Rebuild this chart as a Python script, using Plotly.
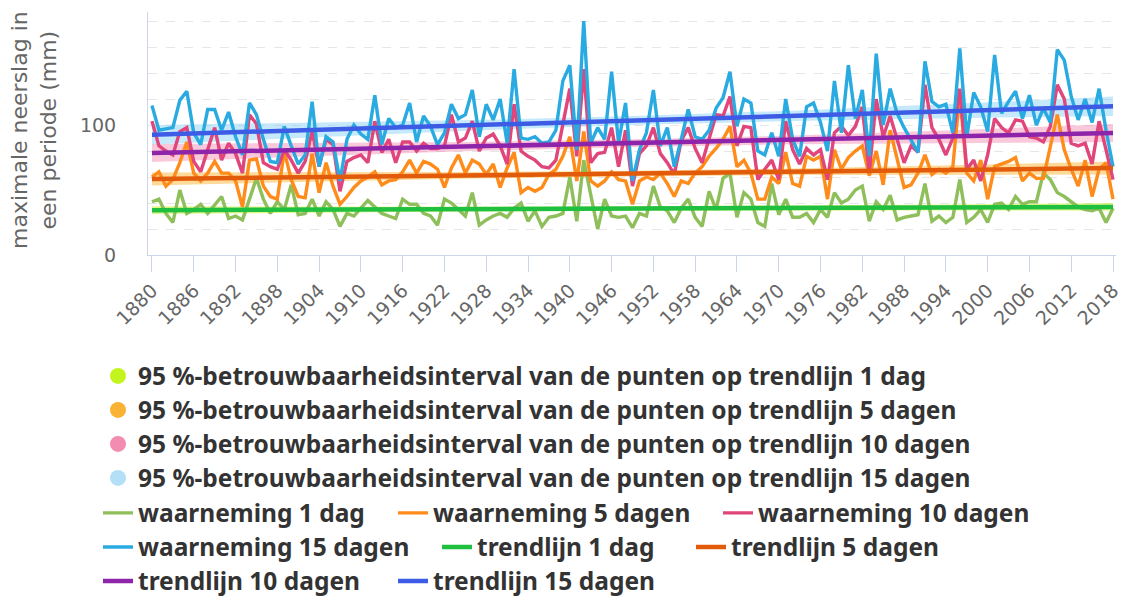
import plotly.graph_objects as go

# jaren 1880 t/m 2018
years = list(range(1880, 2019))

# waarnemingen (mm)
obs_1 = [41, 43, 32, 25, 50, 32, 35, 39, 32, 39, 45, 28, 30, 27, 43, 59, 43, 32, 41, 35, 54, 31, 32,
         43, 30, 41, 35, 22, 32, 30, 36, 42, 37, 32, 30, 28, 43, 39, 39, 32, 30, 23, 43, 40, 35, 30,
         48, 23, 27, 30, 32, 29, 36, 40, 26, 34, 22, 29, 30, 32, 60, 26, 73, 45, 20, 43, 30, 29, 30,
         21, 32, 30, 53, 37, 34, 25, 36, 43, 29, 22, 49, 35, 59, 63, 29, 48, 43, 25, 22, 55, 31, 43,
         29, 29, 32, 25, 35, 29, 48, 40, 43, 50, 53, 26, 41, 35, 46, 27, 29, 30, 31, 55, 26, 30,
         25, 29, 58, 25, 29, 35, 25, 39, 40, 35, 45, 39, 41, 41, 63, 58, 48, 45, 41, 37, 35, 34, 36, 25, 36]
obs_5 = [60, 64, 53, 58, 71, 87, 63, 57, 63, 72, 63, 63, 57, 37, 73, 74, 53, 45, 43, 80, 58, 45, 44,
         78, 48, 71, 53, 39, 45, 52, 57, 60, 64, 54, 57, 58, 64, 73, 63, 72, 70, 66, 52, 67, 77, 63,
         73, 70, 62, 70, 52, 67, 79, 48, 52, 49, 52, 62, 66, 76, 91, 57, 95, 57, 53, 57, 64, 58, 57,
         39, 57, 60, 58, 63, 55, 45, 57, 55, 63, 68, 76, 82, 89, 99, 68, 73, 63, 43, 43, 60, 55, 79,
         55, 53, 76, 73, 76, 43, 81, 66, 75, 80, 84, 61, 80, 54, 96, 73, 52, 54, 63, 77, 62, 66,
         63, 68, 124, 63, 57, 73, 43, 68, 70, 72, 75, 57, 63, 59, 59, 84, 108, 81, 66, 53, 73, 45, 66, 71, 43]
obs_10 = [103, 84, 80, 77, 95, 98, 72, 64, 81, 98, 73, 86, 78, 63, 108, 101, 71, 68, 66, 81, 73, 63, 72,
          95, 68, 89, 85, 49, 72, 75, 77, 71, 103, 79, 89, 71, 87, 87, 80, 86, 82, 82, 84, 108, 87, 90,
          103, 80, 90, 93, 84, 70, 116, 80, 76, 73, 68, 67, 73, 99, 128, 76, 143, 71, 78, 79, 98, 68, 96,
          53, 78, 84, 98, 78, 71, 62, 88, 98, 82, 71, 89, 108, 107, 122, 84, 99, 98, 58, 66, 73, 58, 103,
          81, 70, 82, 77, 81, 58, 94, 99, 92, 99, 114, 63, 120, 91, 107, 89, 71, 84, 79, 131, 98, 89,
          77, 90, 128, 66, 73, 57, 77, 105, 98, 94, 104, 103, 91, 90, 87, 99, 131, 120, 86, 84, 86, 70, 103, 81, 58]
obs_15 = [115, 96, 97, 98, 119, 126, 94, 85, 112, 112, 96, 110, 91, 77, 117, 108, 89, 72, 71, 99, 84, 70, 77,
          118, 68, 91, 87, 57, 89, 100, 93, 89, 123, 85, 105, 98, 100, 117, 87, 107, 99, 85, 94, 116, 105, 108,
          127, 91, 116, 104, 120, 86, 143, 90, 89, 91, 86, 87, 96, 134, 146, 81, 180, 86, 98, 89, 141, 86, 117,
          57, 81, 94, 127, 84, 98, 68, 89, 112, 91, 89, 96, 113, 121, 141, 99, 120, 117, 80, 77, 94, 76, 120,
          89, 76, 114, 117, 102, 80, 134, 94, 146, 105, 127, 76, 155, 100, 128, 109, 98, 89, 79, 149, 118, 114,
          116, 94, 159, 91, 125, 114, 95, 154, 109, 118, 126, 105, 123, 100, 113, 102, 158, 150, 122, 104, 120, 102, 128, 96, 68]

# trendlijnen (begin- en eindwaarde)
trend_years = [1880, 2018]
trend_1 = [34.5, 37.0]
trend_5 = [58.5, 66.9]
trend_10 = [78.5, 93.8]
trend_15 = [92.6, 114.4]

# 95%-betrouwbaarheidsbanden rond de trendlijnen
band_years = [1880, 1903, 1926, 1949, 1972, 1995, 2018]
band_1_low = [31.5, 32.6, 33.4, 34.0, 34.3, 34.3, 34.0]
band_1_high = [37.5, 37.2, 37.2, 37.5, 38.1, 38.9, 40.0]
band_5_low = [53.5, 56.4, 58.8, 60.5, 61.6, 62.0, 61.9]
band_5_high = [63.5, 63.4, 63.8, 64.9, 66.6, 69.0, 71.9]
band_10_low = [71.5, 76.0, 80.0, 83.0, 85.2, 86.3, 87.0]
band_10_high = [85.5, 86.0, 87.0, 89.0, 92.0, 96.0, 100.8]
band_15_low = [85.1, 90.7, 95.8, 100.0, 103.1, 105.3, 106.9]
band_15_high = [100.1, 101.7, 103.8, 107.0, 111.1, 116.3, 121.9]

x_ticks = list(range(1880, 2019, 6))
y_ticks = [0, 20, 40, 60, 80, 100, 120, 140, 160, 180]
y_tick_labels = ["0", "", "", "", "", "100", "", "", "", ""]

for s in (obs_1, obs_5, obs_10, obs_15):
    assert len(s) == len(years), len(s)

W, H = 1125, 598
L, R, T, B = 148, 9, 12, 343
pw, ph = W - L - R, H - T - B


def px_x(x):
    return (x - L) / pw


def px_y(y):
    return (H - B - y) / ph


fig = go.Figure()

bands = [
    (band_1_low, band_1_high, "rgba(195,240,20,0.5)", "#c4f41e",
     "95 %-betrouwbaarheidsinterval van de punten op trendlijn 1 dag"),
    (band_5_low, band_5_high, "rgba(250,170,30,0.45)", "#f9b233",
     "95 %-betrouwbaarheidsinterval van de punten op trendlijn 5 dagen"),
    (band_10_low, band_10_high, "rgba(240,120,165,0.4)", "#f28cb1",
     "95 %-betrouwbaarheidsinterval van de punten op trendlijn 10 dagen"),
    (band_15_low, band_15_high, "rgba(120,200,245,0.42)", "#b3e0f7",
     "95 %-betrouwbaarheidsinterval van de punten op trendlijn 15 dagen"),
]
obs = [
    (obs_1, "#8fbf5a", "waarneming 1 dag"),
    (obs_5, "#ff8c1a", "waarneming 5 dagen"),
    (obs_10, "#e0457b", "waarneming 10 dagen"),
    (obs_15, "#29aae1", "waarneming 15 dagen"),
]
trends = [
    (trend_1, "#1fbf3f", "trendlijn 1 dag"),
    (trend_5, "#e25b0a", "trendlijn 5 dagen"),
    (trend_10, "#8e24aa", "trendlijn 10 dagen"),
    (trend_15, "#3c5ce6", "trendlijn 15 dagen"),
]

legend_ids = ["legend"] + ["legend%d" % i for i in range(2, 13)]
k = 0

for low, high, fillc, dotc, name in bands:
    fig.add_trace(go.Scatter(
        x=band_years + band_years[::-1], y=high + low[::-1],
        fill="toself", fillcolor=fillc, mode="lines",
        line=dict(width=0), hoverinfo="skip", showlegend=False))
    fig.add_trace(go.Scatter(
        x=[None], y=[None], mode="markers", name=name,
        marker=dict(size=20, color=dotc), legend=legend_ids[k]))
    k += 1

for vals, col, name in obs:
    fig.add_trace(go.Scatter(
        x=years, y=vals, mode="lines", name=name,
        line=dict(color=col, width=3.4), legend=legend_ids[k]))
    k += 1

for vals, col, name in trends:
    fig.add_trace(go.Scatter(
        x=trend_years, y=vals, mode="lines", name=name,
        line=dict(color=col, width=4.5), legend=legend_ids[k]))
    k += 1

# plek van elk legenda-item (pixels)
legend_spots = [(98, 376), (98, 410), (98, 444), (98, 478),
                (98, 513), (393, 513), (718, 513),
                (98, 547), (437, 547), (691, 547),
                (98, 581), (393, 581)]

legend_font = dict(family="Noto Sans", size=24.5, color="#333333", weight="bold")
legends = {}
for lid, (sx, sy) in zip(legend_ids, legend_spots):
    legends[lid] = dict(x=px_x(sx), y=px_y(sy), xanchor="left", yanchor="middle",
                        orientation="h", bgcolor="rgba(0,0,0,0)", borderwidth=0,
                        font=legend_font, valign="middle")

fig.update_layout(
    width=W, height=H,
    margin=dict(l=L, r=R, t=T, b=B, autoexpand=False),
    paper_bgcolor="white", plot_bgcolor="white",
    font=dict(family="DejaVu Sans", color="#666666"),
    showlegend=True,
    **legends,
)

fig.update_xaxes(
    range=[1879.43, 2018.43], tickmode="array", tickvals=x_ticks,
    tickangle=-45, tickfont=dict(size=19, color="#666666"),
    ticklabeloverflow="allow",
    ticks="outside", ticklen=16, tickcolor="#ccd6eb", tickwidth=1,
    showline=True, linecolor="#ccd6eb", linewidth=1,
    showgrid=False, zeroline=False)

fig.update_yaxes(
    range=[0, 187], tickmode="array", tickvals=y_ticks, ticktext=y_tick_labels,
    tickfont=dict(size=19, color="#666666"), ticks="", ticklabelstandoff=27,
    showline=True, linecolor="#ccd6eb", linewidth=1,
    showgrid=True, gridcolor="#e6e6e6", griddash="dash", gridwidth=1,
    zeroline=False)

fig.add_annotation(
    text="maximale neerslag in<br>een periode (mm)",
    xref="paper", yref="paper", x=px_x(34), y=px_y(130),
    xanchor="center", yanchor="middle", textangle=-90, showarrow=False,
    font=dict(family="DejaVu Sans", size=22, color="#666666"))

# de standaardmarge van de body weghalen zodat de figuur links boven begint
fig.write_html("out.html", config={"displayModeBar": False},
               post_script="document.body.style.margin='0';")
